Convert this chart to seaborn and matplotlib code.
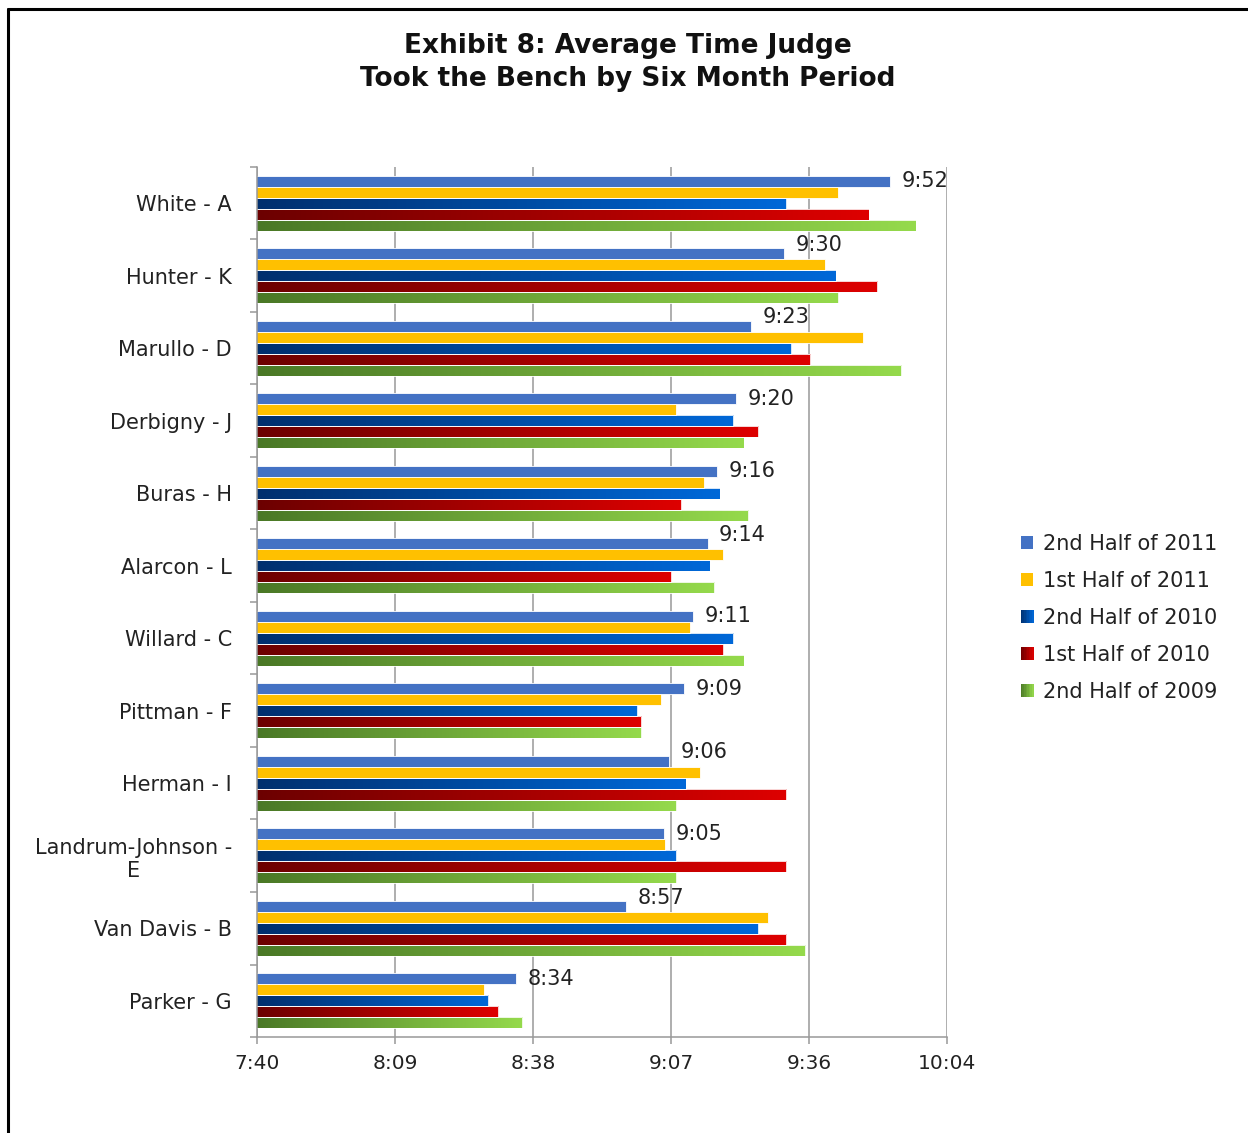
import numpy as np
import pandas as pd
import matplotlib
matplotlib.use("Agg")
import matplotlib.pyplot as plt
import seaborn as sns
from matplotlib.colors import LinearSegmentedColormap
from matplotlib.lines import Line2D
from matplotlib.patches import Rectangle, Patch
from matplotlib.legend_handler import HandlerBase
from matplotlib.ticker import FixedLocator

# ---- data: average time each judge took the bench (minutes after midnight) ----
judges = ["White - A", "Hunter - K", "Marullo - D", "Derbigny - J", "Buras - H",
          "Alarcon - L", "Willard - C", "Pittman - F", "Herman - I",
          "Landrum-Johnson -\nE", "Van Davis - B", "Parker - G"]
periods = ["2nd Half of 2011", "1st Half of 2011", "2nd Half of 2010",
           "1st Half of 2010", "2nd Half of 2009"]

h2_2011 = [592, 570, 563, 560, 556, 554, 551, 549, 546, 545, 537, 514]
h1_2011 = [581.3, 578.4, 586.5, 547.5, 553.3, 557.3, 550.4, 544.3, 552.5, 545.2, 566.5, 507.4]
h2_2010 = [570.4, 580.7, 571.5, 559.4, 556.5, 554.4, 559.4, 539.3, 549.4, 547.5, 564.6, 508.2]
h1_2010 = [587.6, 589.4, 575.4, 564.6, 548.5, 546.4, 557.3, 540.2, 570.4, 570.4, 570.4, 510.3]
h2_2009 = [597.4, 581.3, 594.4, 561.5, 562.5, 555.4, 561.5, 540.2, 547.5, 547.5, 574.4, 515.3]

tick_minutes = [460, 488.8, 517.6, 546.4, 575.2, 604]
tick_labels = ["7:40", "8:09", "8:38", "9:07", "9:36", "10:04"]

series = [h2_2011, h1_2011, h2_2010, h1_2010, h2_2009]
df = pd.DataFrame({
    "judge": np.tile(judges, len(periods)),
    "period": np.repeat(periods, len(judges)),
    "minutes": np.concatenate(series),
})

# ---- styling ----
solid_colors = {"2nd Half of 2011": "#4472C4", "1st Half of 2011": "#FFC000"}
gradient_colors = {
    "2nd Half of 2010": ("#002F6E", "#0068D8"),
    "1st Half of 2010": ("#6C0000", "#DE0000"),
    "2nd Half of 2009": ("#4A7826", "#95DA4C"),
}
palette = {}
for p in periods:
    if p in solid_colors:
        palette[p] = solid_colors[p]
    else:
        palette[p] = gradient_colors[p][1]

text_color = "#222222"
grid_color = "#999999"
label_size = 15

sns.set_theme(style="white")
plt.rcParams["font.family"] = ["DejaVu Sans"]

fig = plt.figure(figsize=(12.48, 11.33), dpi=100)
ax = fig.add_axes([0.206, 0.0847, 0.553, 0.768])

sns.barplot(data=df, y="judge", x="minutes", hue="period", order=judges,
            hue_order=periods, palette=palette, orient="h", width=0.76,
            saturation=1, errorbar=None, legend=False, ax=ax,
            edgecolor="white", linewidth=0.6)

x_lo, x_hi = tick_minutes[0], tick_minutes[-1]

# left-to-right colour gradient on the 2010/2009 bars
for period, container in zip(periods, ax.containers):
    if period not in gradient_colors:
        continue
    cmap = LinearSegmentedColormap.from_list(period, gradient_colors[period])
    for bar in container:
        x_end = bar.get_x() + bar.get_width()
        y0, h = bar.get_y(), bar.get_height()
        im = ax.imshow(np.linspace(0, 1, 256).reshape(1, -1), cmap=cmap,
                       aspect="auto", extent=(x_lo, x_end, y0 + h, y0),
                       interpolation="bilinear", zorder=bar.get_zorder() - 0.05)
        im.set_clip_path(bar)
        bar.set_facecolor("none")

# value labels for the most recent period
first = ax.containers[0]
second = ax.containers[1]
for bar, nxt, val in zip(first, second, h2_2011):
    x_end = bar.get_x() + bar.get_width()
    yc = bar.get_y() + bar.get_height() / 2
    lx = x_end + 2.4
    # lift the label when the bar below would run underneath it
    if nxt.get_x() + nxt.get_width() > lx:
        yc -= 0.12
    ax.text(lx, yc, f"{int(val) // 60}:{int(val) % 60:02d}", ha="left",
            va="center", fontsize=label_size, color=text_color, zorder=5)

ax.set_xlim(x_lo, x_hi)
ax.set_ylim(len(judges) - 0.5, -0.5)
ax.set_xticks(tick_minutes)
ax.set_xticklabels(tick_labels)
ax.set_xlabel("")
ax.set_ylabel("")

ax.xaxis.grid(True, color=grid_color, linewidth=1.1)
ax.yaxis.grid(False)
ax.set_axisbelow(True)

for side in ["top", "right"]:
    ax.spines[side].set_visible(False)
for side in ["left", "bottom"]:
    ax.spines[side].set_visible(True)
    ax.spines[side].set_color(grid_color)
    ax.spines[side].set_linewidth(1.1)

ax.yaxis.set_minor_locator(FixedLocator(np.arange(-0.5, len(judges), 1.0)))
ax.tick_params(axis="y", which="major", length=0, pad=18, labelsize=label_size,
               labelcolor=text_color)
ax.tick_params(axis="y", which="minor", length=5, width=1.1, color=grid_color,
               left=True)
ax.tick_params(axis="x", which="major", length=5, width=1.1, color=grid_color,
               bottom=True, pad=7, labelsize=14.5, labelcolor=text_color)
for lab in ax.get_yticklabels():
    lab.set_multialignment("center")


# legend with small square keys; gradient series get a graded key
class GradientHandler(HandlerBase):
    def __init__(self, colors):
        super().__init__()
        self.colors = colors

    def create_artists(self, legend, orig_handle, xdescent, ydescent, width,
                       height, fontsize, trans):
        cmap = LinearSegmentedColormap.from_list("key", self.colors)
        n = 8
        arts = []
        for k in range(n):
            arts.append(Rectangle((-xdescent + width * k / n, -ydescent),
                                  width / n + 0.3, height,
                                  facecolor=cmap((k + 0.5) / n),
                                  edgecolor="none", transform=trans))
        return arts


handles = []
handler_map = {}
for p in periods:
    hnd = Patch(facecolor=palette[p], edgecolor="none")
    handles.append(hnd)
    if p in gradient_colors:
        handler_map[hnd] = GradientHandler(gradient_colors[p])

fig.legend(handles, periods, loc="center left", bbox_to_anchor=(0.818, 0.4545),
           frameon=False, fontsize=label_size, handlelength=0.6, handleheight=0.6,
           handletextpad=0.45, labelspacing=0.82, borderpad=0,
           borderaxespad=0, handler_map=handler_map, labelcolor=text_color)

fig.text(0.503, 0.945, "Exhibit 8: Average Time Judge\nTook the Bench by Six Month Period",
         ha="center", va="center", fontsize=19, fontweight="bold",
         linespacing=1.35, color="#111111")

# chart-area border
fig.add_artist(Line2D([0.0065, 1.0], [0.9920, 0.9920], transform=fig.transFigure,
                      color="black", linewidth=2.2))
fig.add_artist(Line2D([0.0065, 0.0065], [0.0, 0.9920], transform=fig.transFigure,
                      color="black", linewidth=2.2))

fig.savefig("out.png", dpi=100)
